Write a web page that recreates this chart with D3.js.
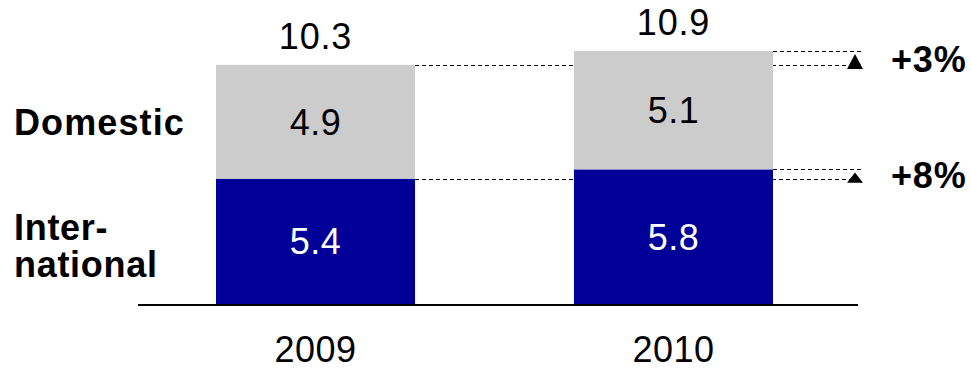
<!DOCTYPE html>
<html><head><meta charset="utf-8">
<script src="https://cdn.jsdelivr.net/npm/d3@7"></script>
<style>
html,body{margin:0;padding:0;background:#fff;}
svg{display:block;font-family:"Liberation Sans",Arial,sans-serif;}
</style></head>
<body>
<svg id="chart" width="971" height="369"></svg>
<script>
const years = ["2009", "2010"];
const international = [5.4, 5.8];
const domestic = [4.9, 5.1];
const totals = [10.3, 10.9];
const seriesNames = ["Domestic", "Inter-\nnational"];
const growthLabels = ["+3%", "+8%"];

const svg = d3.select("#chart");
const x = d3.scaleBand().domain(years).range([216, 773]).paddingInner(0.444).paddingOuter(0);
const y = d3.scaleLinear().domain([0, 10.9]).range([304, 51]);

const colorIntl = "#000099", colorDom = "#cccccc";

// dashed reference lines (behind bars)
const lineEnd = 862;
const dash = svg.append("g").attr("stroke", "#000").attr("stroke-width", 1).attr("stroke-dasharray", "4,3");
years.forEach((yr, i) => {
  const x0 = x(yr) + x.bandwidth();
  [totals[i], international[i]].forEach(v => {
    dash.append("line").attr("x1", x0).attr("x2", lineEnd)
      .attr("y1", Math.round(y(v)) + 0.5).attr("y2", Math.round(y(v)) + 0.5);
  });
});

// bars
years.forEach((yr, i) => {
  svg.append("rect").attr("x", x(yr)).attr("width", x.bandwidth())
    .attr("y", y(international[i])).attr("height", y(0) - y(international[i])).attr("fill", colorIntl);
  svg.append("rect").attr("x", x(yr)).attr("width", x.bandwidth())
    .attr("y", y(international[i] + domestic[i])).attr("height", y(international[i]) - y(international[i] + domestic[i])).attr("fill", colorDom);
  const cx = x(yr) + x.bandwidth() / 2;
  svg.append("text").attr("x", cx).attr("y", (y(international[i]) + y(0)) / 2).attr("dy", "0.36em")
    .attr("text-anchor", "middle").attr("font-size", 36).attr("letter-spacing", 0.5).attr("fill", "#fff").text(international[i].toFixed(1));
  svg.append("text").attr("x", cx).attr("y", (y(international[i]) + y(international[i] + domestic[i])) / 2).attr("dy", "0.36em")
    .attr("text-anchor", "middle").attr("font-size", 36).attr("letter-spacing", 0.5).attr("fill", "#000").text(domestic[i].toFixed(1));
  svg.append("text").attr("x", cx).attr("y", y(totals[i]) - 16)
    .attr("text-anchor", "middle").attr("font-size", 36).attr("letter-spacing", 0.8).attr("fill", "#000").text(totals[i].toFixed(1));
  svg.append("text").attr("x", cx).attr("y", 362)
    .attr("text-anchor", "middle").attr("font-size", 36).attr("letter-spacing", 0.5).attr("fill", "#000").text(yr);
});

// axis baseline
svg.append("line").attr("x1", 138).attr("x2", 858).attr("y1", y(0) + 1).attr("y2", y(0) + 1)
  .attr("stroke", "#000").attr("stroke-width", 2);

// growth arrows
const prevVals = [totals[0], international[0]];
const currVals = [totals[1], international[1]];
prevVals.forEach((pv, i) => {
  const top = y(currVals[i]) + 3, bot = y(pv) + 4;
  const ax = 855;
  svg.append("path").attr("d", `M${ax},${top}L${ax + 8},${bot}L${ax - 8},${bot}Z`).attr("fill", "#000");
  svg.append("text").attr("x", 891).attr("y", (y(currVals[i]) + y(pv)) / 2 + 14).attr("font-size", 36).attr("font-weight", "bold")
    .attr("letter-spacing", 0.8).attr("fill", "#000").text(growthLabels[i]);
});

// series labels
svg.append("text").attr("x", 14).attr("y", 135).attr("font-size", 36).attr("font-weight", "bold")
  .attr("letter-spacing", 1.1).text(seriesNames[0]);
const lab = svg.append("text").attr("x", 14).attr("y", 240).attr("font-size", 36).attr("font-weight", "bold").attr("letter-spacing", 0.7);
seriesNames[1].split("\n").forEach((t, k) => lab.append("tspan").attr("x", 14).attr("y", 240 + k * 37).text(t));
</script>
</body></html>
